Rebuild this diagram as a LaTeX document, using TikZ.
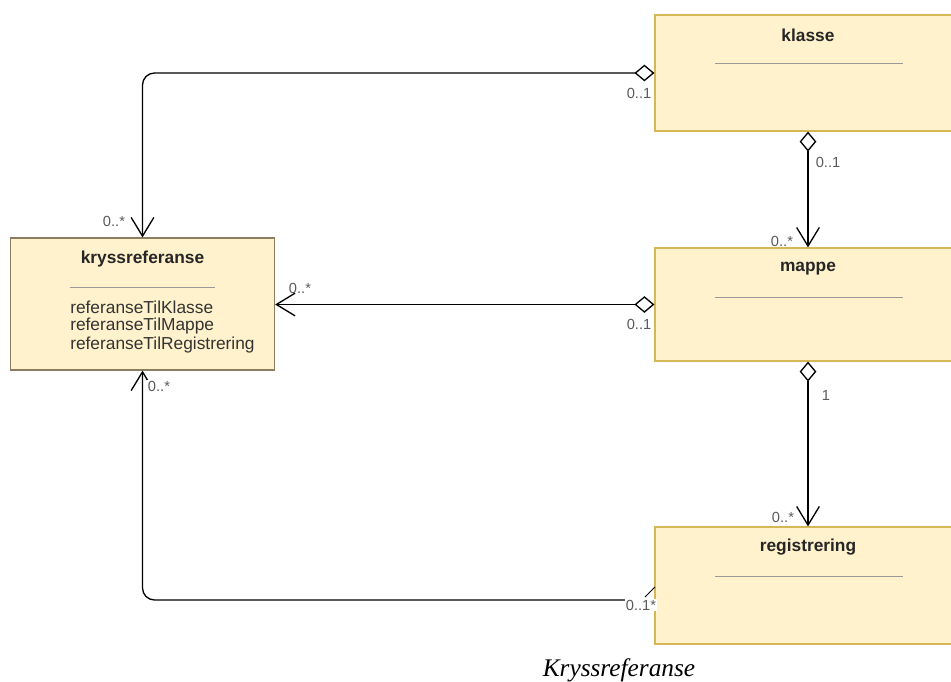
\documentclass[tikz,border=0pt]{standalone}
\usepackage{fontspec}
\setmainfont{Liberation Sans}
\newfontfamily\capfont{Liberation Serif}
\usepackage{tikz}
\usetikzlibrary{arrows.meta, positioning}
\definecolor{umlfill}{RGB}{255, 242, 204}
\definecolor{umldraw}{RGB}{214, 182, 86}
\definecolor{kryssdraw}{RGB}{140, 125, 95}
\definecolor{multgray}{RGB}{90, 90, 90}

\begin{document}
\begin{tikzpicture}[
  x=0.75pt, y=-0.75pt,
  classbox/.style={draw=umldraw, fill=umlfill, line width=0.9pt, inner sep=0pt},
  title/.style={font=\bfseries\fontsize{13}{15}\selectfont, text=black!85, anchor=center},
  attr/.style={font=\fontsize{13}{14}\selectfont, text=black!80, anchor=west, inner sep=0pt},
  sepline/.style={draw=gray!80, line width=0.7pt},
  mult/.style={font=\fontsize{11}{12}\selectfont, text=multgray, inner sep=0.5pt},
  assoc/.style={line width=1pt, rounded corners=9pt,
    {Diamond[open, length=15pt, width=12.5pt]}-{Straight Barb[length=14pt, width=17pt]}},
  plainassoc/.style={line width=1pt, rounded corners=9pt, -{Straight Barb[length=14pt, width=17pt]}},
]
  \useasboundingbox (0,0) rectangle (951,682);
  \clip (0,0) rectangle (951,682);

  % Classes
  \node[classbox, minimum width=229.5pt, minimum height=87pt] (klasse) at (808, 73) {};
  \node[classbox, minimum width=229.5pt, minimum height=84.75pt] (mappe) at (808, 304.5) {};
  \node[classbox, minimum width=229.5pt, minimum height=87.75pt] (registrering) at (808, 585.5) {};
  \node[classbox, draw=kryssdraw, minimum width=198pt, minimum height=99pt] (kryss) at (142.5, 304) {};

  % Titles
  \node[title] (klassetitle) at (808, 35) {klasse};
  \node[title] (mappetitle) at (808, 269) {mappe};
  \node[title] (regtitle) at (808, 547) {registrering};
  \node[title] (kryssttitle) at (142.5, 259) {kryssreferanse};

  % Separators
  \draw[sepline] (715, 63) -- (903, 63);
  \draw[sepline] (715, 297) -- (903, 297);
  \draw[sepline] (715, 576) -- (903, 576);
  \draw[sepline] (70, 287) -- (215, 287);

  % Attributes
  \node[attr] (attrklasse) at (70, 307) {referanseTilKlasse};
  \node[attr] (attrmappe) at (70, 326) {referanseTilMappe};
  \node[attr] (attrreg) at (70, 345) {referanseTilRegistrering};

  % Associations
  \draw[assoc] (klasse.west) -| (kryss.north);
  \draw[assoc] (klasse.south) -- (mappe.north);
  \draw[assoc] (mappe.west) -- (mappe.west -| kryss.east);
  \draw[assoc] (mappe.south) -- (registrering.north);
  \coordinate (regout) at (655, 600);
  \draw[plainassoc] (regout) -| (kryss.south);
  \draw[line width=0.7pt] (645, 597) -- (655, 587);

  % Multiplicities
  \node[mult] (m1a) at (639, 93) {0..1};
  \node[mult] (m1b) at (114, 221) {0..*};
  \node[mult] (m2a) at (828, 162) {0..1};
  \node[mult, fill=white] (m2b) at (782, 241) {0..*};
  \node[mult] (m3a) at (639, 324) {0..1};
  \node[mult] (m3b) at (300, 288) {0..*};
  \node[mult] (m4a) at (826, 395) {1};
  \node[mult] (m4b) at (783, 517) {0..*};
  \node[mult, fill=white] (m5a) at (641, 605) {0..1*};
  \node[mult, fill=white] (m5b) at (159, 386) {0..*};

  % Caption
  \node[font=\capfont\itshape\fontsize{19}{22}\selectfont] (caption) at (619, 670) {Kryssreferanse};
\end{tikzpicture}
\end{document}
